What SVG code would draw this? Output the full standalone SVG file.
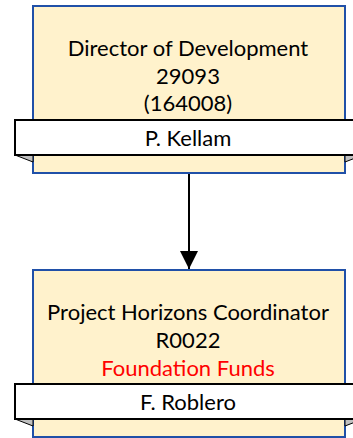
<svg xmlns="http://www.w3.org/2000/svg" width="353" height="438" viewBox="0 0 353 438">
<defs>
<style>
.box{fill:#FFF2CC;stroke:#2050A8;stroke-width:2}
.band{fill:#FFFFFF;stroke:#000000;stroke-width:2}
.fold{fill:#C0C0C0;stroke:#000000;stroke-width:1}
.t{font-family:Lato,"Liberation Sans",sans-serif;font-size:22px;fill:#000000;text-anchor:middle}
.red{fill:#FF0000}
.conn{stroke:#000000;stroke-width:2;fill:none}
</style>
<marker id="arrow" markerWidth="18" markerHeight="18" refX="18" refY="9" orient="auto" markerUnits="userSpaceOnUse">
<path d="M0,0 L18,9 L0,18 Z" fill="#000000"/>
</marker>
</defs>
<g id="connectors">
<line class="conn" x1="189" y1="174" x2="189" y2="269" marker-end="url(#arrow)"/>
</g>
<g id="node-director">
<rect class="box" x="33" y="6" width="312" height="167"/>
<polygon class="fold" points="15,155 33,155 33,162"/>
<polygon class="fold" points="345,155 363,155 345,162"/>
<rect class="band" x="15" y="120" width="348" height="35"/>
<text class="t" x="188" y="56">Director of Development</text>
<text class="t" x="188" y="84">29093</text>
<text class="t" x="188" y="111">(164008)</text>
<text class="t" x="188" y="146">P. Kellam</text>
</g>
<g id="node-coordinator">
<rect class="box" x="33" y="270" width="312" height="167"/>
<polygon class="fold" points="15,419 33,419 33,426"/>
<polygon class="fold" points="345,419 363,419 345,426"/>
<rect class="band" x="15" y="384" width="348" height="35"/>
<text class="t" x="188" y="320">Project Horizons Coordinator</text>
<text class="t" x="188" y="348">R0022</text>
<text class="t red" x="188" y="376">Foundation Funds</text>
<text class="t" x="188" y="410">F. Roblero</text>
</g>
</svg>
